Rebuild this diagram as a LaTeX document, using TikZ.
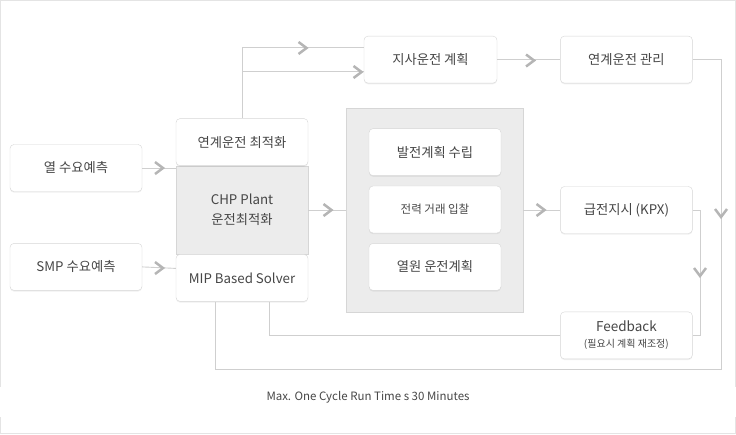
\documentclass[tikz,border=0pt]{standalone}
\usepackage{fontspec}
\setmainfont{Noto Sans CJK KR}
\usetikzlibrary{positioning,shadows}
\definecolor{linegray}{HTML}{CFCFCF}
\definecolor{chevgray}{HTML}{B5B5B5}
\definecolor{boxline}{HTML}{D6D6D6}
\definecolor{panel}{HTML}{ECECEC}
\definecolor{textgray}{HTML}{464646}
\definecolor{framegray}{HTML}{E4E4E4}

\begin{document}
\begin{tikzpicture}[
    x=1pt, y=-1pt,
    node distance=10pt,
    box/.style={
        draw=boxline,
        fill=white,
        rounded corners=4pt,
        minimum width=132pt,
        minimum height=47pt,
        inner sep=2pt,
        align=center,
        text=textgray,
        font=\fontsize{13.3}{18}\selectfont,
        drop shadow={shadow xshift=0pt, shadow yshift=-1.2pt, opacity=0.12}
    },
    panelbox/.style={
        draw=boxline,
        fill=panel,
        align=center,
        text=textgray,
        font=\fontsize{13.3}{20}\selectfont
    },
    link/.style={draw=linegray, line width=0.9pt},
    chev/.pic={\draw[chevgray, line width=2.5pt] (-4,-6) -- (4,0) -- (-4,6);}
]
\useasboundingbox (0,0) rectangle (736,434);
\draw[framegray] (0.5,387) -- (0.5,0.5) -- (735.5,0.5) -- (735.5,387);
\draw[framegray] (0.5,417) -- (0.5,433.5) -- (735.5,433.5) -- (735.5,417);

\node[box] (heat) at (76,168) {열 수요예측};
\node[box, below=51.5pt of heat] (smp) {SMP 수요예측};

\node[panelbox, minimum width=132pt, minimum height=88pt] (chp) at (242,210) {CHP Plant\\운전최적화};
\node[box, above=0pt of chp] (coop) {연계운전 최적화};
\node[box, below=0pt of chp] (mip) {MIP Based Solver};

\node[panelbox, minimum width=177pt, minimum height=204pt] (exec) at (434.5,210) {};
\node[box, font=\fontsize{11.5}{14}\selectfont] (bid) at (435,209.5) {전력 거래 입찰};
\node[box, above=of bid] (plan) {발전계획 수립};
\node[box, below=of bid] (heatplan) {열원 운전계획};

\node[box, right=37pt of exec] (kpx) {급전지시 (KPX)};
\node[box, above=103pt of kpx] (mgmt) {연계운전 관리};
\node[box, left=63pt of mgmt, minimum width=133pt] (branch) {지사운전 계획};
\node[box, below=78pt of kpx, font=\fontsize{13.5}{16}\selectfont] (fb) {Feedback\\{\fontsize{10}{12}\selectfont (필요시 계획 재조정)}};

\node[text=textgray, font=\fontsize{11.5}{14}\selectfont] (cap) at (368,397) {Max. One Cycle Run Time s 30 Minutes};

\coordinate (loop) at (721,369);

\draw[link] (heat.east) -- (heat.east -| chp.west);
\draw[link] (smp.east) -- ([yshift=-1.5pt]smp.east -| mip.west);
\draw[link] (coop.north) |- ([yshift=12.5pt]branch.west);
\draw[link] ([yshift=-11.5pt]branch.west) -| (coop.north);
\draw[link] (branch.east) -- (mgmt.west);
\draw[link] (mgmt.east) -| (loop) -| ([xshift=-27pt]mip.south);
\draw[link] (chp.east) -- (exec.west);
\draw[link] (exec.east) -- (kpx.west);
\draw[link] (kpx.east) -- ++(8,0) |- (fb.east);
\draw[link] (fb.west) -| ([xshift=27pt]mip.south);

\pic at (159,168) {chev};
\pic at (159,268) {chev};
\pic at (302.5,48) {chev};
\pic at (357.5,72) {chev};
\pic at (530,60.5) {chev};
\pic at (327.5,210) {chev};
\pic at (540.5,210) {chev};
\pic[rotate=-90] at (721,213) {chev};
\pic[rotate=-90] at (700,272) {chev};
\end{tikzpicture}
\end{document}
